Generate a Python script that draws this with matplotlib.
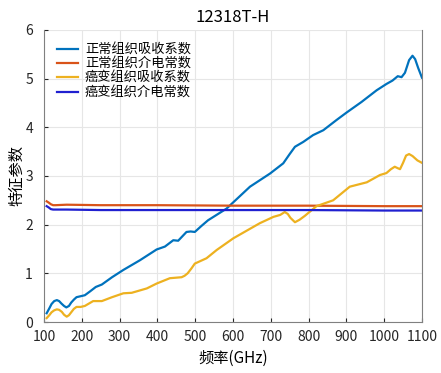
import matplotlib.pyplot as plt
import numpy as np

plt.rcParams['font.family'] = ['Noto Sans CJK SC', 'DejaVu Sans']

# normal tissue absorption coefficient
f_abs_n = [107, 114, 120, 127, 134, 140, 146, 153, 159, 166, 172, 179, 186, 197, 208, 222, 237,
           253, 280, 310, 354, 398, 420, 442, 455, 466, 477, 488, 499, 516, 534, 583, 645, 698,
           733, 750, 764, 786, 812, 839, 874, 900, 940, 980, 1006, 1022, 1036, 1046, 1055, 1066,
           1075, 1082, 1090, 1100]
abs_n = [0.18, 0.28, 0.37, 0.43, 0.45, 0.43, 0.38, 0.33, 0.30, 0.33, 0.40, 0.46, 0.51, 0.53,
         0.55, 0.63, 0.72, 0.77, 0.92, 1.07, 1.27, 1.49, 1.55, 1.68, 1.67, 1.76, 1.85, 1.86,
         1.85, 1.97, 2.09, 2.33, 2.78, 3.05, 3.26, 3.45, 3.60, 3.70, 3.84, 3.94, 4.15, 4.30,
         4.52, 4.76, 4.89, 4.96, 5.05, 5.03, 5.12, 5.38, 5.47, 5.40, 5.22, 5.02]

# cancer tissue absorption coefficient
f_abs_c = [107, 114, 120, 127, 134, 140, 147, 153, 160, 166, 172, 179, 186, 197, 208, 219, 230,
           253, 280, 310, 332, 372, 398, 433, 464, 472, 480, 490, 499, 530, 557, 601, 671, 707,
           725, 737, 745, 752, 764, 776, 790, 821, 865, 909, 954, 989, 1006, 1018, 1028, 1036,
           1042, 1050, 1058, 1066, 1075, 1088, 1100]
abs_c = [0.08, 0.14, 0.20, 0.24, 0.26, 0.25, 0.21, 0.15, 0.11, 0.14, 0.20, 0.27, 0.31, 0.31,
         0.33, 0.38, 0.43, 0.43, 0.51, 0.59, 0.60, 0.69, 0.79, 0.90, 0.92, 0.95, 1.00, 1.10,
         1.20, 1.31, 1.48, 1.72, 2.03, 2.16, 2.20, 2.26, 2.22, 2.14, 2.05, 2.10, 2.18, 2.38,
         2.50, 2.78, 2.87, 3.02, 3.06, 3.14, 3.19, 3.16, 3.14, 3.27, 3.42, 3.45, 3.41, 3.32, 3.27]

# dielectric constants
f_die = [107, 113, 118, 124, 130, 160, 250, 400, 600, 800, 1000, 1100]
die_n = [2.48, 2.45, 2.42, 2.40, 2.40, 2.41, 2.40, 2.40, 2.39, 2.39, 2.38, 2.38]
die_c = [2.38, 2.35, 2.32, 2.31, 2.31, 2.31, 2.30, 2.30, 2.30, 2.30, 2.29, 2.29]

labels = ['正常组织吸收系数', '正常组织介电常数', '癌变组织吸收系数', '癌变组织介电常数']
colors = ['#0072BD', '#D95319', '#EDB120', '#2020D0']

fig = plt.figure(figsize=(4.41, 3.73), dpi=100)
ax = fig.add_axes([0.0998, 0.1367, 0.857, 0.783])

ax.plot(f_abs_n, abs_n, color=colors[0], lw=1.6, label=labels[0])
ax.plot(f_die, die_n, color=colors[1], lw=1.6, label=labels[1])
ax.plot(f_abs_c, abs_c, color=colors[2], lw=1.6, label=labels[2])
ax.plot(f_die, die_c, color=colors[3], lw=1.6, label=labels[3])

ax.set_xlim(100, 1100)
ax.set_ylim(0, 6)
ax.set_xticks(np.arange(100, 1101, 100))
ax.set_yticks(np.arange(0, 7, 1))
ax.grid(True, color='#e6e6e6', lw=0.8)
ax.set_axisbelow(True)
ax.tick_params(direction='in', labelsize=10, colors='#262626', length=3)
ax.tick_params(axis='x', pad=6)
ax.tick_params(axis='y', pad=8)
for s in ['left', 'right', 'bottom']:
    ax.spines[s].set_color('#808080')
ax.spines['top'].set_visible(False)

ax.set_title('12318T-H', fontsize=12)
ax.set_xlabel('频率(GHz)', fontsize=11, labelpad=4)
ax.set_ylabel('特征参数', fontsize=11, labelpad=0)
ax.legend(loc='upper left', frameon=False, fontsize=9.5, handlelength=1.6,
          handletextpad=0.5, labelspacing=0.1, borderaxespad=0.6)

fig.savefig('out.png')
